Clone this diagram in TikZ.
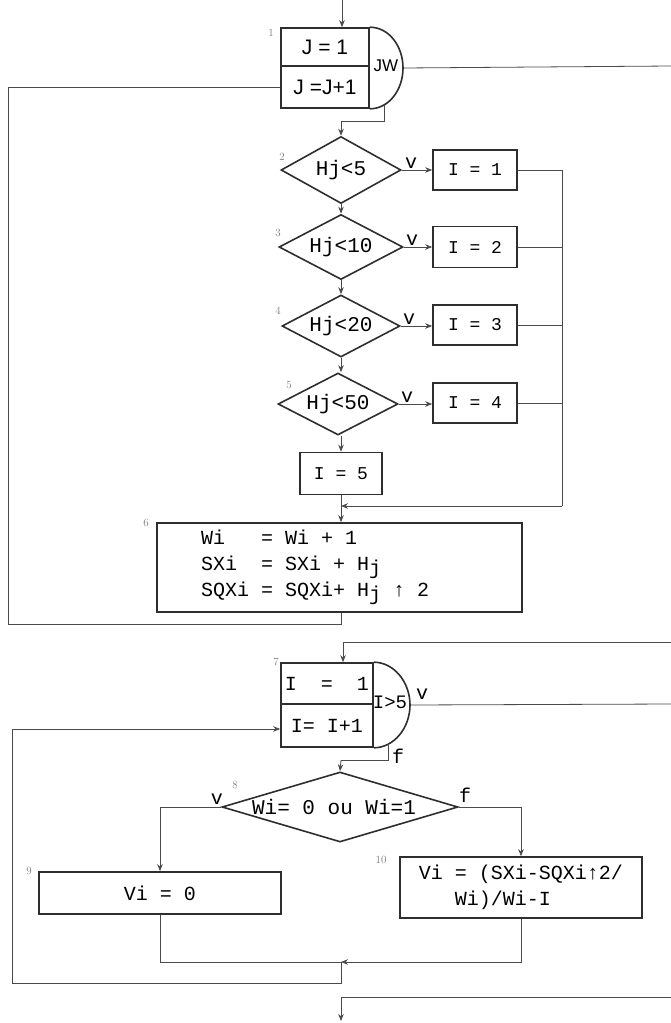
\documentclass[tikz,border=0pt]{standalone}
\usepackage{fontspec}
\newfontfamily\tw{Liberation Mono}
\newfontfamily\hs{Liberation Sans}
\usetikzlibrary{arrows.meta,shapes.geometric,calc}
\definecolor{ink}{HTML}{2E2E2E}
\definecolor{wire}{HTML}{4A4A4A}
\definecolor{numc}{HTML}{7A7A7A}
\tikzset{
  boxs/.style={draw=ink,line width=1.6pt,rectangle,inner sep=0pt,font=\tw\fontsize{20}{26}\selectfont},
  ibox/.style={boxs,minimum width=84pt,font=\tw\fontsize{18}{20}\selectfont},
  jbox/.style={boxs,font=\hs\fontsize{21}{24}\selectfont},
  dia/.style={draw=ink,line width=1.6pt,diamond,inner sep=0pt},
  dtext/.style={font=\tw\fontsize{21}{24}\selectfont,inner sep=0pt},
  conn/.style={draw=wire,line width=0.8pt},
  arr/.style={conn,-{Stealth[length=7pt,width=5.5pt]}},
  num/.style={font=\fontsize{11}{12}\selectfont,text=numc,inner sep=0pt},
  lab/.style={font=\tw\fontsize{20}{22}\selectfont,inner sep=0pt},
  arcline/.style={draw=ink,line width=1.6pt}
}
\begin{document}
\begin{tikzpicture}[x=1pt,y=-1pt]
\useasboundingbox (0,0) rectangle (671,1023);

% ---------- loop 1 ----------
\node[jbox,minimum width=88pt,minimum height=38pt] (L1a) at (325,47) {J = 1};
\node[jbox,minimum width=88pt,minimum height=42pt] (L1b) at (325,87) {J =J+1};
\coordinate (L1arc) at (403,68);
\draw[arcline] (L1a.north east) .. controls +(19,0) and +(0,-22) .. (L1arc)
  .. controls +(0,22) and +(19,0) .. (L1b.south east);
\node[font=\hs\fontsize{17}{20}\selectfont,inner sep=0pt] (L1c) at (386,66) {JW};
\node[num] (n1) at (271,33) {1};
\coordinate (top) at (342,0);
\draw[arr] (top) -- (top |- L1a.north);
\coordinate (e1) at (671,66);
\draw[conn] (L1arc) -- (e1);
\coordinate (L1bot) at (384,105);
\coordinate (j1) at (341,121);

% ---------- decisions ----------
\node[dia,minimum width=120pt,minimum height=67pt,label={[dtext]center:Hj<5}] (D2) at (341,170) {};
\node[dia,minimum width=124pt,minimum height=65pt,label={[dtext]center:Hj<10}] (D3) at (341,247) {};
\node[dia,minimum width=118pt,minimum height=62pt,label={[dtext]center:Hj<20}] (D4) at (341,326) {};
\node[dia,minimum width=120pt,minimum height=62pt,label={[dtext]center:Hj<50}] (D5) at (338,404) {};
\node[num] (n2) at (282,157) {2};
\node[num] (n3) at (278,233) {3};
\node[num] (n4) at (278,311) {4};
\node[num] (n5) at (289,385) {5};

\draw[conn] (L1bot) |- (j1);
\draw[arr] (j1) -- (D2.north);
\draw[arr] (D2.south) -- (D3.north);
\draw[arr] (D3.south) -- (D4.north);
\draw[arr] (D4.south) -- (D5.north -| D4.south);

\node[ibox,minimum height=40pt] (I1) at (475,170) {I = 1};
\node[ibox,minimum height=41pt] (I2) at (475,247) {I = 2};
\node[ibox,minimum height=40pt] (I3) at (475,325) {I = 3};
\node[ibox,minimum height=40pt] (I4) at (475,403) {I = 4};

\draw[arr] (D2.east) -- (I1.west);
\draw[arr] (D3.east) -- (I2.west |- D3.east);
\draw[arr] (D4.east) -- (I3.west |- D4.east);
\draw[arr] (D5.east) -- (I4.west |- D5.east);
\node[lab,anchor=south west] (v2) at ($(D2.east)+(3,-1)$) {v};
\node[lab,anchor=south west] (v3) at ($(D3.east)+(2,-1)$) {v};
\node[lab,anchor=south west] (v4) at ($(D4.east)+(2,-1)$) {v};
\node[lab,anchor=south west] (v5) at ($(D5.east)+(2,-1)$) {v};

\node[ibox,minimum width=82pt,minimum height=42pt] (I5) at (341,473.5) {I = 5};
\draw[arr] (D5.south -| I5.north) -- (I5.north);

\coordinate (rm) at (562,506);
\coordinate (j2) at (341,506);
\draw[conn] (I1.east) -| (rm);
\draw[conn] (I2.east) -- (I2.east -| rm);
\draw[conn] (I3.east) -- (I3.east -| rm);
\draw[conn] (I4.east) -- (I4.east -| rm);
\draw[arr] (rm) -- (j2);

% ---------- box 6 ----------
\node[boxs,minimum width=365pt,minimum height=89pt,text width=277pt,align=left] (B6) at (339.5,567.5)
{\tw\fontsize{20}{26}\selectfont\spaceskip=0.6em\relax Wi\ \ \ = Wi + 1\\SXi\ \ = SXi + H\raisebox{-4pt}{j}\\SQXi = SQXi+ H\raisebox{-4pt}{j} ↑ 2};
\node[num] (n6) at (146,523) {6};
\draw[arr] (I5.south) -- (I5.south |- B6.north);

\coordinate (lp1) at (8,624);
\draw[conn] (I5.south |- B6.south) |- (lp1) |- (L1b.west);

% ---------- loop 7 ----------
\coordinate (e2) at (671,642);
\coordinate (j3) at (343,642);
\node[boxs,minimum width=92pt,minimum height=41pt] (L7a) at (327,683.5) {I\ \ =\ \ 1};
\node[boxs,minimum width=92pt,minimum height=43pt] (L7b) at (327,725.5) {I= I+1};
\coordinate (L7arc) at (410,705);
\draw[arcline] (L7a.north east) .. controls +(20,0) and +(0,-23) .. (L7arc)
  .. controls +(0,23) and +(20,0) .. (L7b.south east);
\node[font=\tw\fontsize{19}{22}\selectfont,inner sep=0pt] (L7c) at (390,702) {I>5};
\node[num] (n7) at (276,662) {7};
\draw[conn] (e2) -- (j3);
\draw[arr] (j3) -- (j3 |- L7a.north);
\coordinate (e3) at (671,704);
\draw[conn] (L7arc) -- (e3);
\node[lab,anchor=south west] (v7) at (416,700) {v};

\coordinate (L7bot) at (388,744);
\coordinate (j4) at (341,760);
\draw[conn] (L7bot) |- (j4);
\node[lab,anchor=west] (f7) at (392,756) {f};

% ---------- decision 8 ----------
\node[dia,minimum width=236pt,minimum height=70pt,label={[dtext,font=\tw\fontsize{21}{24}\selectfont,xshift=-6pt]center:Wi= 0 ou Wi=1}] (D8) at (340,807) {};
\draw[arr] (j4) -- (D8.north);
\node[num] (n8) at (235,785) {8};
\node[lab,anchor=south east] (v8) at ($(D8.west)+(2,-2)$) {v};
\node[lab,anchor=south west] (f8) at ($(D8.east)+(0,-4)$) {f};

\node[boxs,minimum width=242pt,minimum height=42pt] (B9) at (160,893) {Vi = 0};
\node[boxs,minimum width=242pt,minimum height=61pt,align=left] (B10) at (521,887.5)
{\tw\fontsize{20}{26}\selectfont\spaceskip=0.6em\relax Vi = (SXi-SQXi↑2/\\\hspace*{1.8em}Wi)/Wi-I};
\node[num] (n9) at (29,871) {9};
\node[num] (n10) at (381,860) {10};

\draw[arr] (D8.west) -| (B9.north);
\draw[arr] (D8.east) -| (B10.north);

\coordinate (mg) at (341,962);
\draw[conn] (B9.south) |- (mg);
\draw[arr] (B10.south) |- (mg);
\coordinate (lp2) at (12,983);
\draw[arr] (mg) |- (lp2) |- (L7b.west |- 0,729);

% ---------- exit ----------
\coordinate (e4) at (671,997);
\coordinate (j5) at (341,997);
\coordinate (endc) at (341,1021);
\draw[conn] (e4) -- (j5);
\draw[arr] (j5) -- (endc);
\end{tikzpicture}
\end{document}
